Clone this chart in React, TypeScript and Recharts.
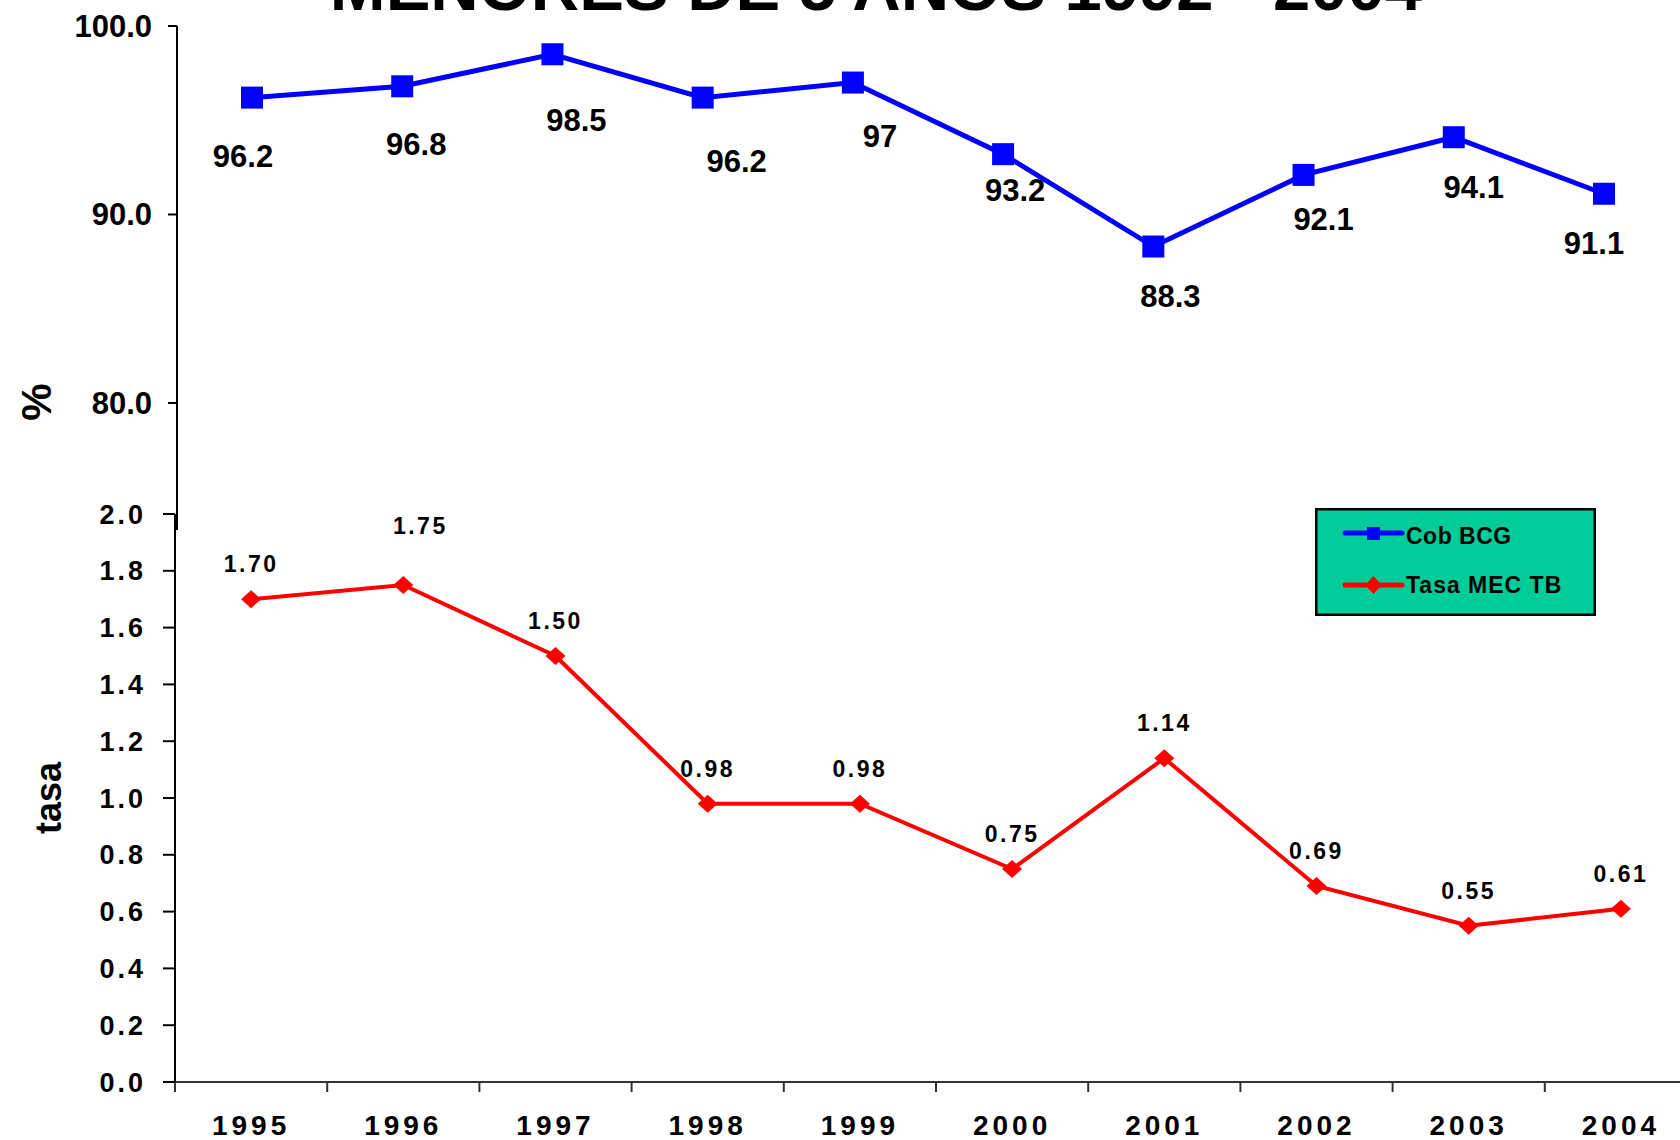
import React from 'react';
import { LineChart, Line, XAxis, YAxis, Legend, LabelList } from 'recharts';

const YEARS = ['1995', '1996', '1997', '1998', '1999', '2000', '2001', '2002', '2003', '2004'];
const COB_BCG = [96.2, 96.8, 98.5, 96.2, 97, 93.2, 88.3, 92.1, 94.1, 91.1];
const TASA_MEC_TB = [1.7, 1.75, 1.5, 0.98, 0.98, 0.75, 1.14, 0.69, 0.55, 0.61];
const BCG_TICKS = [80, 90, 100];
const TASA_TICKS = [0, 0.2, 0.4, 0.6, 0.8, 1.0, 1.2, 1.4, 1.6, 1.8, 2.0];
const SERIES_NAMES = ['Cob BCG', 'Tasa MEC TB'];
const TITLE = 'MENORES DE 5 AÑOS 1992 - 2004';

// the labels in the original were dragged by hand, so each one gets its own nudge
const BCG_LABEL_NUDGE = [[-9, 59], [14, 58], [24, 66], [34, 64], [27, 54], [12, 36], [17, 50], [20, 45], [20, 50], [-10, 50]];
const TASA_LABEL_NUDGE = [[0, -35], [17, -59], [0, -35], [0, -35], [0, -35], [0, -35], [0, -35], [0, -35], [0, -35], [0, -35]];

const data = YEARS.map((year, i) => ({
  year,
  bcg: COB_BCG[i],
  tasa: TASA_MEC_TB[i],
}));

const SANS = '"Liberation Sans", Arial, sans-serif';
const NARROW = '"Liberation Sans Narrow", "Arial Narrow", "Liberation Sans", Arial, sans-serif';
const BLUE = '#0000FF';
const RED = '#FF0000';

// lower chart geometry
const LOW_W = 1700;
const LOW_LEFT = 175;
const LOW_RIGHT = 3;
const BAND = (LOW_W - LOW_LEFT - LOW_RIGHT) / YEARS.length;

const SquareDot = (props: any) => {
  const { cx, cy, index } = props;
  if (cx == null || cy == null) return <g key={index} />;
  return <rect key={index} x={cx - 11} y={cy - 11} width={22} height={22} fill={BLUE} />;
};

const DiamondDot = (props: any) => {
  const { cx, cy, index } = props;
  if (cx == null || cy == null) return <g key={index} />;
  return (
    <path
      key={index}
      d={`M${cx},${cy - 9} L${cx + 10},${cy} L${cx},${cy + 9} L${cx - 10},${cy} Z`}
      fill={RED}
    />
  );
};

// year label, plus the tick mark on the left edge of its category (Excel style)
const YearTick = (props: any) => {
  const { x, y, payload } = props;
  const edge = x - BAND / 2;
  return (
    <g>
      <line x1={edge} x2={edge} y1={y} y2={y + 10} stroke="#333" strokeWidth={2} />
      <text
        x={x}
        y={y + 43}
        textAnchor="middle"
        dominantBaseline="central"
        fontFamily={SANS}
        fontWeight={700}
        fontSize={28}
        letterSpacing={4}
        fill="#000"
      >
        {payload.value}
      </text>
    </g>
  );
};

const bcgLabel = (p: any) => {
  const x = p.x ?? p.viewBox?.x;
  const y = p.y ?? p.viewBox?.y;
  const [dx, dy] = BCG_LABEL_NUDGE[p.index ?? 0];
  return (
    <text
      x={x + dx}
      y={y + dy}
      textAnchor="middle"
      dominantBaseline="central"
      fontFamily={NARROW}
      fontWeight={700}
      fontSize={31}
      fill="#000"
    >
      {p.value}
    </text>
  );
};

const tasaLabel = (p: any) => {
  const x = p.x ?? p.viewBox?.x;
  const y = p.y ?? p.viewBox?.y;
  const [dx, dy] = TASA_LABEL_NUDGE[p.index ?? 0];
  return (
    <text
      x={x + dx}
      y={y + dy}
      textAnchor="middle"
      dominantBaseline="central"
      fontFamily={SANS}
      fontWeight={700}
      fontSize={23}
      letterSpacing={2.5}
      fill="#000"
    >
      {Number(p.value).toFixed(2)}
    </text>
  );
};

const LegendBox = () => (
  <svg width={281} height={108}>
    <rect x={1.25} y={1.25} width={278.5} height={105.5} fill="#00CC99" stroke="#000" strokeWidth={2.5} />
    <line x1={30} x2={87} y1={25} y2={25} stroke={BLUE} strokeWidth={5} strokeLinecap="round" />
    <rect x={52} y={19} width={13} height={13} fill={BLUE} />
    <text x={91} y={36} fontFamily={SANS} fontWeight={700} fontSize={23} letterSpacing={0.5} fill="#000">
      {SERIES_NAMES[0]}
    </text>
    <line x1={30} x2={87} y1={77} y2={77} stroke={RED} strokeWidth={5} strokeLinecap="round" />
    <path d="M58.5,68 L67,77 L58.5,86 L50,77 Z" fill={RED} />
    <text x={91} y={85} fontFamily={SANS} fontWeight={700} fontSize={23} letterSpacing={1} fill="#000">
      {SERIES_NAMES[1]}
    </text>
  </svg>
);

export default function App() {
  return (
    <div
      style={{
        position: 'absolute',
        left: 0,
        top: 0,
        width: 1680,
        height: 1140,
        overflow: 'hidden',
        background: '#fff',
      }}
    >
      <svg width={1680} height={1140} style={{ position: 'absolute', left: 0, top: 0 }}>
        <text x={876} y={10} textAnchor="middle" fontFamily={SANS} fontWeight={700} fontSize={67} fill="#000">
          {TITLE}
        </text>
        <text
          x={36}
          y={402}
          transform="rotate(-90 36 402)"
          textAnchor="middle"
          dominantBaseline="central"
          fontFamily={SANS}
          fontWeight={700}
          fontSize={42}
          fill="#000"
        >
          %
        </text>
        <text
          x={48}
          y={798}
          transform="rotate(-90 48 798)"
          textAnchor="middle"
          dominantBaseline="central"
          fontFamily={SANS}
          fontWeight={700}
          fontSize={36}
          fill="#000"
        >
          tasa
        </text>
      </svg>

      <div style={{ position: 'absolute', left: 0, top: 0 }}>
        <LineChart width={1680} height={540} data={data} margin={{ top: 26, right: 1, bottom: 10, left: 0 }}>
          <XAxis dataKey="year" hide padding={{ left: 75, right: 75 }} />
          <YAxis
            width={177}
            domain={[73.26, 100]}
            ticks={BCG_TICKS}
            allowDataOverflow
            tickFormatter={(v: number) => v.toFixed(1)}
            axisLine={{ stroke: '#000', strokeWidth: 2 }}
            tickLine={{ stroke: '#000', strokeWidth: 2 }}
            tickSize={9}
            tickMargin={16}
            tick={{ fill: '#000', fontFamily: NARROW, fontWeight: 700, fontSize: 31 }}
          />
          <Line
            dataKey="bcg"
            name={SERIES_NAMES[0]}
            stroke={BLUE}
            strokeWidth={5}
            dot={SquareDot}
            activeDot={false}
            isAnimationActive={false}
          >
            <LabelList dataKey="bcg" content={bcgLabel} />
          </Line>
        </LineChart>
      </div>

      <div style={{ position: 'absolute', left: 0, top: 480 }}>
        <LineChart width={LOW_W} height={660} data={data} margin={{ top: 34, right: LOW_RIGHT, bottom: 0, left: 0 }}>
          <XAxis
            dataKey="year"
            padding={{ left: BAND / 2, right: BAND / 2 }}
            height={58}
            interval={0}
            axisLine={{ stroke: '#333', strokeWidth: 2 }}
            tickLine={false}
            tickSize={0}
            tickMargin={0}
            tick={YearTick}
          />
          <YAxis
            width={LOW_LEFT}
            domain={[0, 2]}
            ticks={TASA_TICKS}
            tickFormatter={(v: number) => v.toFixed(1)}
            axisLine={{ stroke: '#000', strokeWidth: 2 }}
            tickLine={{ stroke: '#000', strokeWidth: 2 }}
            tickSize={12}
            tickMargin={17}
            tick={{ fill: '#000', fontFamily: SANS, fontWeight: 700, fontSize: 27, letterSpacing: 3 }}
          />
          <Legend
            layout="horizontal"
            verticalAlign="middle"
            align="center"
            wrapperStyle={{ left: 1315, top: 28, width: 281, height: 108 }}
            content={() => <LegendBox />}
          />
          <Line
            dataKey="tasa"
            name={SERIES_NAMES[1]}
            stroke={RED}
            strokeWidth={4}
            dot={DiamondDot}
            activeDot={false}
            isAnimationActive={false}
          >
            <LabelList dataKey="tasa" content={tasaLabel} />
          </Line>
        </LineChart>
      </div>
    </div>
  );
}
